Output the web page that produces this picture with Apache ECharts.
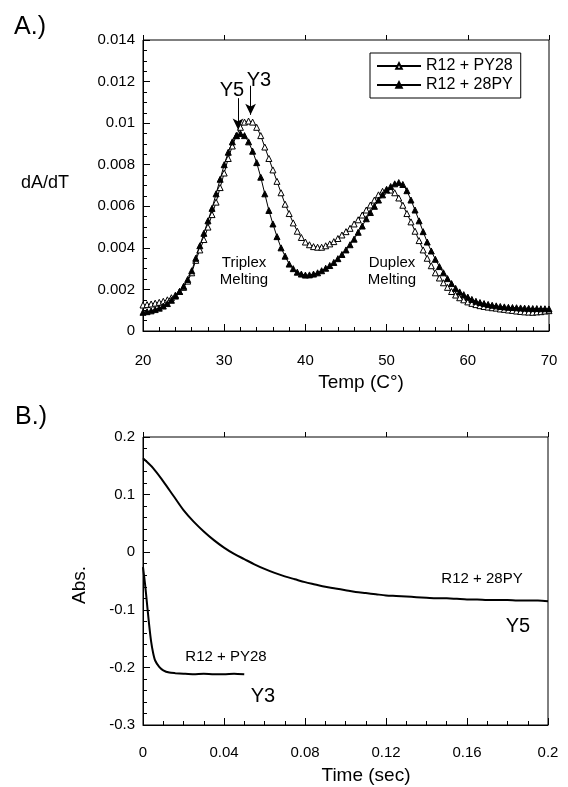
<!DOCTYPE html>
<html>
  <head>
    <meta http-equiv="Content-Type" content="text/html; charset=utf-8" />
    <title>dA/dT melting and kinetics</title>
    <script src="https://cdn.jsdelivr.net/npm/echarts@6/dist/echarts.min.js"></script>
    <style>
      html, body { margin: 0; padding: 0; background: #fff; }
      #chart { width: 568px; height: 787px; }
    </style>
  </head>
  <body>
    <div id="chart"></div>
    <script type="text/javascript">
      "use strict";

      // ---- panel A: melting curves (temperature, dA/dT) ----
      var tempC = [
        20, 20.5, 21, 21.5, 22, 22.5, 23, 23.5, 24, 24.5, 25, 25.5, 26, 26.5, 27, 27.5, 28, 28.5, 29, 29.5,
        30, 30.5, 31, 31.5, 32, 32.5, 33, 33.5, 34, 34.5, 35, 35.5, 36, 36.5, 37, 37.5, 38, 38.5, 39, 39.5,
        40, 40.5, 41, 41.5, 42, 42.5, 43, 43.5, 44, 44.5, 45, 45.5, 46, 46.5, 47, 47.5, 48, 48.5, 49, 49.5,
        50, 50.5, 51, 51.5, 52, 52.5, 53, 53.5, 54, 54.5, 55, 55.5, 56, 56.5, 57, 57.5, 58, 58.5, 59, 59.5,
        60, 60.5, 61, 61.5, 62, 62.5, 63, 63.5, 64, 64.5, 65, 65.5, 66, 66.5, 67, 67.5, 68, 68.5, 69, 69.5, 70
      ];
      // R12 + PY28 (open triangles)
      var dadtPY28 = [
        0.00125, 0.00127, 0.0013, 0.00134, 0.00138, 0.00143, 0.0015, 0.0016, 0.00173, 0.0019,
        0.0021, 0.0024, 0.0028, 0.0034, 0.0039, 0.0044, 0.005, 0.0056, 0.0062, 0.0069,
        0.0076, 0.0083, 0.0089, 0.0094, 0.0098, 0.01005, 0.0101, 0.01005, 0.0098, 0.0094,
        0.00885, 0.0083, 0.00775, 0.0072, 0.00665, 0.0061, 0.00565, 0.0052, 0.0048, 0.0045,
        0.00428, 0.00415, 0.00406, 0.00403, 0.00403, 0.0041, 0.00419, 0.0043, 0.00445, 0.00462,
        0.00478, 0.00494, 0.00515, 0.00535, 0.00558, 0.00582, 0.00606, 0.0063, 0.00655, 0.00672,
        0.00682, 0.00678, 0.00665, 0.0064, 0.00605, 0.00565, 0.00525, 0.0048, 0.00435, 0.0039,
        0.0035, 0.00314, 0.0028, 0.00255, 0.00232, 0.0021, 0.0019, 0.00173, 0.0016, 0.0015,
        0.0014, 0.00133, 0.00127, 0.00122, 0.00118, 0.00115, 0.00112, 0.0011, 0.00106, 0.00104,
        0.00101, 0.00099, 0.00096, 0.00094, 0.00092, 0.00091, 0.0009, 0.00092, 0.00093, 0.00096, 0.00098
      ];
      // R12 + 28PY (filled triangles)
      var dadt28PY = [
        0.0009, 0.00093, 0.00097, 0.00103, 0.0011, 0.0012, 0.00132, 0.00148, 0.00168, 0.0019,
        0.00215, 0.00248, 0.0029, 0.0035, 0.0041, 0.0047, 0.0053, 0.0059, 0.0066, 0.0073,
        0.008, 0.0086, 0.0091, 0.0094, 0.0095, 0.0094, 0.0091, 0.00865, 0.0081, 0.0074,
        0.0066, 0.0058, 0.00515, 0.00454, 0.004, 0.0036, 0.00322, 0.003, 0.00283, 0.00274,
        0.00269, 0.0027, 0.00274, 0.0028, 0.0029, 0.00302, 0.00315, 0.0033, 0.00348, 0.00368,
        0.0039, 0.00415, 0.00442, 0.00475, 0.00505, 0.0054, 0.0057, 0.006, 0.0063, 0.00655,
        0.00678, 0.00695, 0.00708, 0.00714, 0.00705, 0.00675, 0.0063, 0.00582, 0.0053, 0.00478,
        0.00428, 0.00385, 0.00345, 0.0031, 0.0028, 0.00252, 0.00228, 0.00205, 0.00188, 0.00175,
        0.00163, 0.00152, 0.00143, 0.00137, 0.00132, 0.00128, 0.00124, 0.00121, 0.00118, 0.00116,
        0.00114, 0.00113, 0.00112, 0.00111, 0.0011, 0.00109, 0.00108, 0.00108, 0.00107, 0.00107, 0.00106
      ];
      var namesA = ["R12 + PY28", "R12 + 28PY"];
      // arrows marking the triplex peaks: [temp, top, tip]
      var arrowY5 = [31.7, 0.0112, 0.0097];
      var arrowY3 = [33.25, 0.0118, 0.0104];

      // ---- panel B: stopped-flow traces (time, Abs.) ----
      var timeY5 = [
        0, 0.005, 0.01, 0.015, 0.02, 0.025, 0.03, 0.035, 0.04, 0.045, 0.05, 0.055, 0.06, 0.065, 0.07,
        0.075, 0.08, 0.085, 0.09, 0.095, 0.1, 0.105, 0.11, 0.115, 0.12, 0.125, 0.13, 0.135, 0.14,
        0.145, 0.15, 0.155, 0.16, 0.165, 0.17, 0.175, 0.18, 0.185, 0.19, 0.195, 0.2
      ];
      var absY5 = [
        0.163, 0.146, 0.123, 0.098, 0.073, 0.053, 0.036, 0.021, 0.008, -0.003, -0.012, -0.021, -0.029, -0.036, -0.042,
        -0.047, -0.052, -0.056, -0.06, -0.063, -0.066, -0.069, -0.071, -0.073, -0.075, -0.076, -0.077, -0.078, -0.079,
        -0.08, -0.08, -0.081, -0.082, -0.082, -0.083, -0.083, -0.083, -0.084, -0.084, -0.084, -0.085
      ];
      var timeY3 = [0, 0.001, 0.002, 0.003, 0.004, 0.005, 0.006, 0.008, 0.01, 0.013, 0.016, 0.02, 0.025, 0.03, 0.035, 0.04, 0.045, 0.05];
      var absY3 = [-0.026, -0.055, -0.09, -0.125, -0.155, -0.175, -0.188, -0.199, -0.205, -0.209, -0.21, -0.211, -0.212, -0.211, -0.212, -0.212, -0.211, -0.212];

      function pairs(xs, ys) {
        return xs.map(function (x, i) { return [x, ys[i]]; });
      }

      var FONT = "Liberation Sans, Arial, Helvetica, sans-serif";

      function textEl(x, y, text, size, extra) {
        var el = {
          type: "text",
          x: x,
          y: y,
          style: {
            text: text,
            fill: "#000",
            font: size + "px " + FONT,
            textAlign: "center",
            textVerticalAlign: "middle",
          },
        };
        if (extra) Object.assign(el, extra);
        return el;
      }

      function axisX(gridIndex, min, max, interval, minorSplit, margin) {
        return {
          type: "value",
          gridIndex: gridIndex,
          min: min,
          max: max,
          interval: interval,
          axisLine: { onZero: false, lineStyle: { color: "#000", width: 1 } },
          axisTick: { inside: true, length: 7, lineStyle: { color: "#000" } },
          minorTick: { show: true, splitNumber: minorSplit, length: 4, lineStyle: { color: "#000" } },
          splitLine: { show: false },
          axisLabel: { color: "#000", fontSize: 15, fontFamily: FONT, margin: margin },
        };
      }

      // same scale, only the short outward half of the major ticks
      function axisXOut(gridIndex, min, max, interval) {
        return {
          type: "value",
          gridIndex: gridIndex,
          min: min,
          max: max,
          interval: interval,
          axisLine: { show: false, onZero: false },
          axisTick: { inside: false, length: 5, lineStyle: { color: "#000" } },
          splitLine: { show: false },
          axisLabel: { show: false },
        };
      }

      function axisY(gridIndex, min, max, interval, minorSplit) {
        return {
          type: "value",
          gridIndex: gridIndex,
          min: min,
          max: max,
          interval: interval,
          axisLine: { onZero: false, lineStyle: { color: "#000", width: 1 } },
          axisTick: { inside: true, length: 7, lineStyle: { color: "#000" } },
          minorTick: { show: true, splitNumber: minorSplit, length: 4, lineStyle: { color: "#000" } },
          splitLine: { show: false },
          axisLabel: { color: "#000", fontSize: 15, fontFamily: FONT, margin: 8 },
        };
      }

      var chart = echarts.init(document.getElementById("chart"));

      var option = {
        backgroundColor: "#fff",
        animation: false,
        textStyle: { fontFamily: FONT },
        grid: [
          { left: 143, top: 40, width: 406, height: 291, show: true, borderColor: "#000", borderWidth: 1 },
          { left: 143, top: 437, width: 405, height: 288, show: true, borderColor: "#000", borderWidth: 1 },
        ],
        xAxis: [
          axisX(0, 20, 70, 10, 5, 22),
          axisX(1, 0, 0.2, 0.04, 4, 20),
          axisXOut(0, 20, 70, 10),
          axisXOut(1, 0, 0.2, 0.04),
        ],
        yAxis: [axisY(0, 0, 0.014, 0.002, 4), axisY(1, -0.3, 0.2, 0.1, 5)],
        legend: {
          left: 370,
          top: 53,
          orient: "vertical",
          itemGap: 3,
          itemWidth: 44,
          itemHeight: 7,
          padding: [5, 8, 5, 6],
          borderColor: "#000",
          borderWidth: 1,
          textStyle: { color: "#000", fontSize: 16, fontFamily: FONT },
          data: namesA,
        },
        graphic: [
          textEl(30, 27, "A.)", 25),
          textEl(31, 417, "B.)", 25),
          textEl(45, 183, "dA/dT", 18),
          textEl(361, 383, "Temp (C\u00b0)", 19),
          textEl(80, 585, "Abs.", 19, { rotation: Math.PI / 2 }),
          textEl(366, 776, "Time (sec)", 19),
          textEl(232, 90, "Y5", 20),
          textEl(259, 80, "Y3", 20),
          textEl(244, 263, "Triplex", 15),
          textEl(244, 280, "Melting", 15),
          textEl(392, 263, "Duplex", 15),
          textEl(392, 280, "Melting", 15),
          textEl(482, 579, "R12 + 28PY", 15),
          textEl(518, 626, "Y5", 20),
          textEl(226, 657, "R12 + PY28", 15),
          textEl(263, 696, "Y3", 20),
        ],
        series: [
          {
            name: namesA[0],
            type: "line",
            xAxisIndex: 0,
            yAxisIndex: 0,
            data: pairs(tempC, dadtPY28),
            symbol: "triangle",
            symbolSize: 6,
            lineStyle: { color: "#000", width: 1 },
            itemStyle: { color: "#fff", borderColor: "#000", borderWidth: 1 },
            z: 3,
            markLine: {
              silent: true,
              symbol: ["none", "arrow"],
              symbolSize: [8, 11],
              label: { show: false },
              lineStyle: { color: "#000", width: 1, type: "solid" },
              data: [
                [{ coord: [arrowY5[0], arrowY5[1]] }, { coord: [arrowY5[0], arrowY5[2]] }],
                [{ coord: [arrowY3[0], arrowY3[1]] }, { coord: [arrowY3[0], arrowY3[2]] }],
              ],
            },
          },
          {
            name: namesA[1],
            type: "line",
            xAxisIndex: 0,
            yAxisIndex: 0,
            data: pairs(tempC, dadt28PY),
            symbol: "triangle",
            symbolSize: 6,
            lineStyle: { color: "#000", width: 1 },
            itemStyle: { color: "#000", borderColor: "#000", borderWidth: 1 },
            z: 4,
          },
          {
            name: "Y5 trace",
            type: "line",
            xAxisIndex: 1,
            yAxisIndex: 1,
            data: pairs(timeY5, absY5),
            symbol: "none",
            smooth: 0.3,
            lineStyle: { color: "#000", width: 2 },
          },
          {
            name: "Y3 trace",
            type: "line",
            xAxisIndex: 1,
            yAxisIndex: 1,
            data: pairs(timeY3, absY3),
            symbol: "none",
            smooth: 0.2,
            lineStyle: { color: "#000", width: 2 },
          },
        ],
      };

      chart.setOption(option);
    </script>
  </body>
</html>
